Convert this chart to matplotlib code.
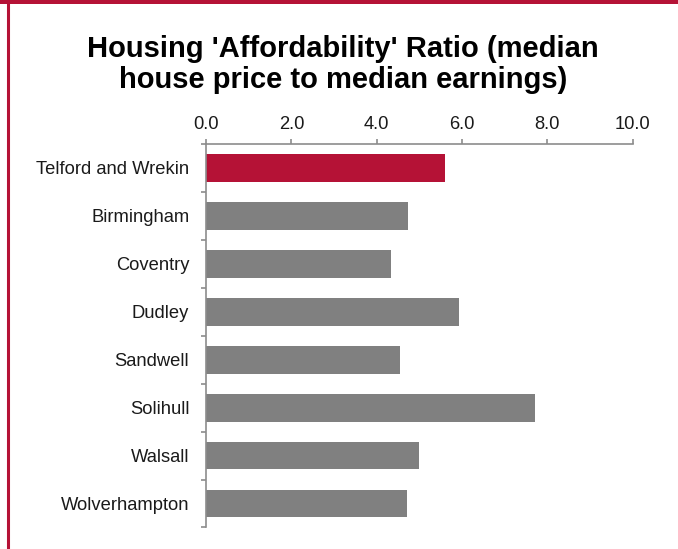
import matplotlib
matplotlib.use("Agg")
import matplotlib.pyplot as plt
from matplotlib.lines import Line2D
from matplotlib.patches import Rectangle
import numpy as np

# ── Data ─────────────────────────────────────────────────────────────────────
areas = ["Telford and Wrekin", "Birmingham", "Coventry", "Dudley",
         "Sandwell", "Solihull", "Walsall", "Wolverhampton"]
ratios = [5.60, 4.73, 4.34, 5.93, 4.55, 7.71, 4.99, 4.71]
x_ticks = [0.0, 2.0, 4.0, 6.0, 8.0, 10.0]

RED = "#B51236"
GREY = "#808080"
AXIS = "#8C8C8C"

plt.rcParams["font.family"] = ["Liberation Sans", "DejaVu Sans"]

fig = plt.figure(figsize=(6.78, 5.49), dpi=100)
ax = fig.add_axes([0.3038, 0.0392, 0.6294, 0.6985])

# ── Bars ─────────────────────────────────────────────────────────────────────
y = np.arange(len(areas))
colours = [RED] + [GREY] * (len(areas) - 1)
ax.barh(y, ratios, height=0.58, color=colours, zorder=2)

ax.set_xlim(0, 10)
ax.set_ylim(len(areas) - 0.5, -0.5)

# x axis on top
ax.xaxis.set_ticks_position("top")
ax.xaxis.set_label_position("top")
ax.set_xticks(x_ticks)
ax.set_xticklabels([f"{v:.1f}" for v in x_ticks], fontsize=13.2, color="#1a1a1a")
ax.tick_params(axis="x", direction="out", length=3.6, width=1.2, color=AXIS, pad=4)

# y axis: labels at centres, tick marks at boundaries
ax.set_yticks(y)
ax.set_yticklabels(areas, fontsize=13.2, color="#1a1a1a")
ax.set_yticks(np.arange(-0.5, len(areas), 1.0), minor=True)
ax.tick_params(axis="y", which="major", length=0, pad=12)
ax.tick_params(axis="y", which="minor", direction="out", length=3.6, width=1.2, color=AXIS)

for side in ["right", "bottom"]:
    ax.spines[side].set_visible(False)
for side in ["top", "left"]:
    ax.spines[side].set_color(AXIS)
    ax.spines[side].set_linewidth(1.2)

# ── Title ────────────────────────────────────────────────────────────────────
fig.text(0.506, 1 - 35 / 549, "Housing 'Affordability' Ratio (median\nhouse price to median earnings)",
         ha="center", va="top", fontsize=21, fontweight="bold", linespacing=1.15)

# ── Red frame (top band + left rule) ─────────────────────────────────────────
fig.patches.append(Rectangle((0, 1 - 4 / 549), 1, 4 / 549, transform=fig.transFigure,
                             facecolor=RED, edgecolor="none"))
fig.lines.append(Line2D([8 / 678, 8 / 678], [0, 1], transform=fig.transFigure,
                        color=RED, linewidth=2.2))

fig.savefig("out.png", dpi=100)
